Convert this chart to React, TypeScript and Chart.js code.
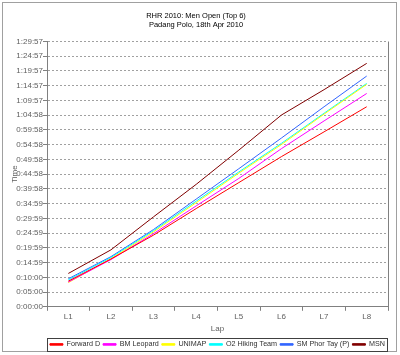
import React, { useEffect, useRef } from "react";
import { Chart, registerables } from "chart.js";

Chart.register(...registerables);

const laps = ["L1", "L2", "L3", "L4", "L5", "L6", "L7", "L8"];

// cumulative times in minutes
const forwardD = [8.7, 16.2, 24.3, 33.3, 42.1, 50.9, 59.3, 67.8];
const bmLeopard = [8.4, 16.0, 24.8, 34.2, 43.5, 53.6, 63.0, 72.3];
const unimap = [8.2, 16.3, 25.4, 35.3, 45.3, 55.0, 65.3, 75.4];
const o2Hiking = [9.1, 16.7, 25.8, 35.8, 45.7, 55.4, 65.6, 75.7];
const smPhorTay = [9.5, 17.0, 26.2, 36.5, 46.8, 57.2, 67.8, 78.2];
const msn = [11.3, 19.3, 30.5, 41.5, 53.1, 65.0, 73.6, 82.5];

const seriesNames = ["Forward D", "BM Leopard", "UNIMAP", "O2 Hiking Team", "SM Phor Tay (P)", "MSN"];
const seriesColors = ["#FF0000", "#FF00FF", "#FFFF00", "#00FFFF", "#3366FF", "#800000"];

const yTickLabels = [
  "0:00:00", "0:05:00", "0:10:00", "0:14:59", "0:19:59", "0:24:59", "0:29:59",
  "0:34:59", "0:39:58", "0:44:58", "0:49:58", "0:54:58", "0:59:58", "1:04:58",
  "1:09:57", "1:14:57", "1:19:57", "1:24:57", "1:29:57",
];
const yMax = 89.95; // 1:29:57 in minutes

const FONT = "'Liberation Sans', Arial, sans-serif";
const LEGEND_FONT = 7.2;
const LEGEND_PAD = 3;

const framePlugin = {
  id: "frame",
  beforeDraw(chart: any) {
    const ctx = chart.ctx;
    ctx.save();
    ctx.fillStyle = "#ffffff";
    ctx.fillRect(0, 0, chart.width, chart.height);
    ctx.strokeStyle = "#a0a0a0";
    ctx.lineWidth = 1;
    ctx.strokeRect(2.5, 2.5, 394, 349);
    ctx.restore();
  },
  afterDraw(chart: any) {
    const ctx = chart.ctx;
    const a = chart.chartArea;
    ctx.save();
    ctx.strokeStyle = "#808080";
    ctx.lineWidth = 1;
    ctx.beginPath();
    const rx = Math.round(a.right) + 0.5;
    ctx.moveTo(rx, Math.round(a.top) + 0.5);
    ctx.lineTo(rx, Math.round(a.bottom) + 0.5);
    ctx.stroke();
    // legend box
    const lg = chart.legend;
    if (lg && lg.legendHitBoxes && lg.legendHitBoxes.length) {
      const hb = lg.legendHitBoxes;
      const l = Math.min(...hb.map((h: any) => h.left)) - 3;
      const r = Math.max(...hb.map((h: any) => h.left + h.width)) + 2;
      const h = LEGEND_FONT + LEGEND_PAD * 2;
      ctx.strokeStyle = "#404040";
      ctx.strokeRect(Math.round(l) + 0.5, Math.round(lg.top) + 0.5, Math.round(r - l), Math.round(h));
    }
    ctx.restore();
  },
};

export default function App() {
  const ref = useRef<HTMLCanvasElement | null>(null);
  useEffect(() => {
    if (!ref.current) return;
    const datasets = [forwardD, bmLeopard, unimap, o2Hiking, smPhorTay, msn].map((d, i) => ({
      label: seriesNames[i],
      data: d,
      borderColor: seriesColors[i],
      backgroundColor: seriesColors[i],
      borderWidth: 1,
      pointRadius: 0,
      tension: 0,
      fill: false,
    }));
    const chart = new Chart(ref.current, {
      type: "line",
      data: { labels: laps, datasets },
      plugins: [framePlugin],
      options: {
        animation: false,
        responsive: false,
        devicePixelRatio: 1,
        layout: { padding: { left: 4, right: 12, top: 0, bottom: -3 } },
        plugins: {
          tooltip: { enabled: false },
          title: {
            display: true,
            text: ["RHR 2010: Men Open (Top 6)", "Padang Polo, 18th Apr 2010"],
            color: "#000000",
            font: { family: FONT, size: 7.5, weight: "normal", lineHeight: 1.2 },
            padding: { top: 11.5, bottom: 11.9 },
          },
          legend: {
            position: "bottom",
            align: "end",
            labels: {
              boxWidth: 13,
              boxHeight: 1.5,
              padding: LEGEND_PAD,
              color: "#303030",
              font: { family: FONT, size: LEGEND_FONT },
            },
          },
        },
        scales: {
          x: {
            type: "category",
            offset: true,
            grid: {
              offset: true,
              drawOnChartArea: false,
              drawTicks: true,
              tickLength: 4,
              color: "#808080",
            },
            border: { color: "#808080" },
            ticks: {
              color: "#606060",
              padding: 1,
              font: { family: FONT, size: 8 },
              maxRotation: 0,
            },
            title: {
              display: true,
              text: "Lap",
              color: "#606060",
              font: { family: FONT, size: 8 },
              padding: { top: 0, bottom: 4 },
            },
            afterFit(scale: any) {
              scale.height = 31;
            },
          },
          y: {
            type: "linear",
            min: 0,
            max: yMax,
            grid: {
              color: "#a0a0a0",
              tickLength: 4,
              tickBorderDash: [],
              tickColor: "#808080",
            },
            border: { color: "#808080", dash: [2, 2] },
            afterBuildTicks(scale: any) {
              scale.ticks = yTickLabels.map((_, i) => ({ value: (i * yMax) / (yTickLabels.length - 1) }));
            },
            ticks: {
              color: "#606060",
              padding: 0,
              font: { family: FONT, size: 8 },
              callback: (_v: any, i: number) => yTickLabels[i],
            },
            title: {
              display: true,
              text: "Time",
              color: "#606060",
              font: { family: FONT, size: 8 },
              padding: { top: 6, bottom: 0 },
            },
            afterFit(scale: any) {
              scale.width = 43;
            },
          },
        },
      },
    } as any);
    return () => chart.destroy();
  }, []);
  return (
    <div style={{ position: "absolute", left: 0, top: 0, width: 400, height: 355, background: "#fff" }}>
      <canvas ref={ref} width={400} height={355} style={{ display: "block", width: 400, height: 355 }} />
    </div>
  );
}
